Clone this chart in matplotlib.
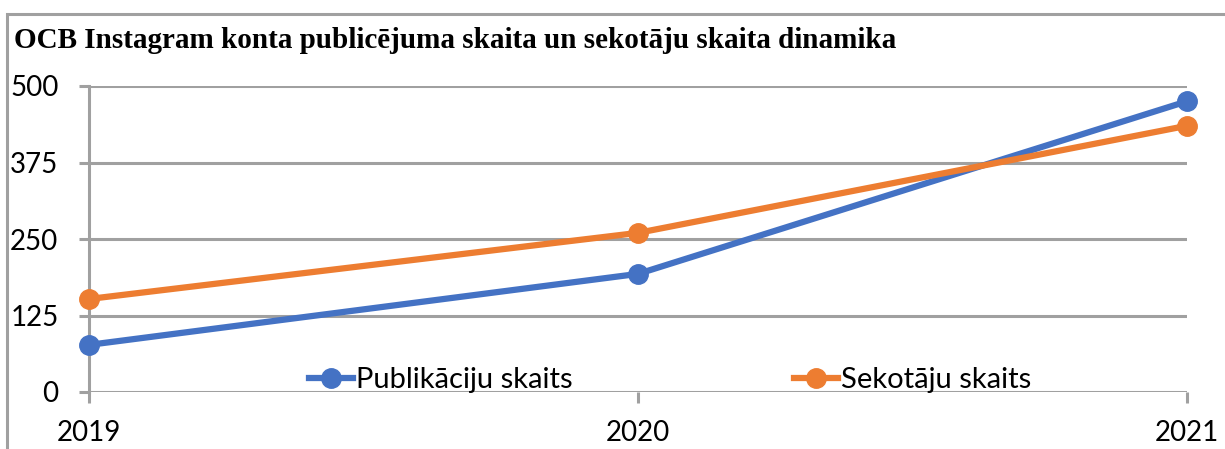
import matplotlib.pyplot as plt
from matplotlib.patches import Rectangle

years = [2019, 2020, 2021]
publikacijas = [77, 193, 475]
sekotaji = [152, 260, 435]
yticks = [0, 125, 250, 375, 500]

title = "OCB Instagram konta publicējuma skaita un sekotāju skaita dinamika"
labels = ["Publikāciju skaits", "Sekotāju skaits"]
colors = ["#4472C4", "#ED7D31"]
grid_col = "#A0A0A0"

plt.rcParams['font.family'] = ['Lato', 'DejaVu Sans']

fig = plt.figure(figsize=(12.25, 4.49), dpi=100)
ax = fig.add_axes([89/1225, 1-392/449, (1187-89)/1225, (392-86)/449])

# outer chart frame (runs off the image right & bottom)
fig.patches.append(Rectangle((7/1225, -0.1), 1.2, 1-14/449+0.1, transform=fig.transFigure,
                             fill=False, edgecolor=grid_col, linewidth=2.2))

ax.plot(years, publikacijas, color=colors[0], lw=4.5, marker='o', ms=14, clip_on=False,
        label=labels[0], zorder=3)
ax.plot(years, sekotaji, color=colors[1], lw=4.5, marker='o', ms=14, clip_on=False,
        label=labels[1], zorder=3)

ax.set_xlim(2019, 2021)
ax.set_ylim(0, 500)
ax.set_xticks(years)
ax.set_yticks(yticks)
ax.grid(axis='y', color=grid_col, lw=2.2)
ax.set_axisbelow(True)
for s in ['top', 'right', 'bottom']:
    ax.spines[s].set_visible(False)
ax.spines['left'].set_color(grid_col)
ax.spines['left'].set_linewidth(2.2)
ax.tick_params(axis='y', length=7, width=2.2, color=grid_col, pad=15, labelsize=20)
ax.tick_params(axis='x', length=8, width=2.2, color=grid_col, pad=12, labelsize=20)

fig.text(14/1225, 1-40/449, title, family='Liberation Serif', weight='bold',
         fontsize=21, va='center', ha='left')

ax.legend(loc='center left', bbox_to_anchor=(0.19, 0.04), ncol=2, frameon=False,
          fontsize=21, handlelength=1.5, handletextpad=0.1, columnspacing=7.6,
          borderaxespad=0)

fig.savefig('out.png', dpi=100)
